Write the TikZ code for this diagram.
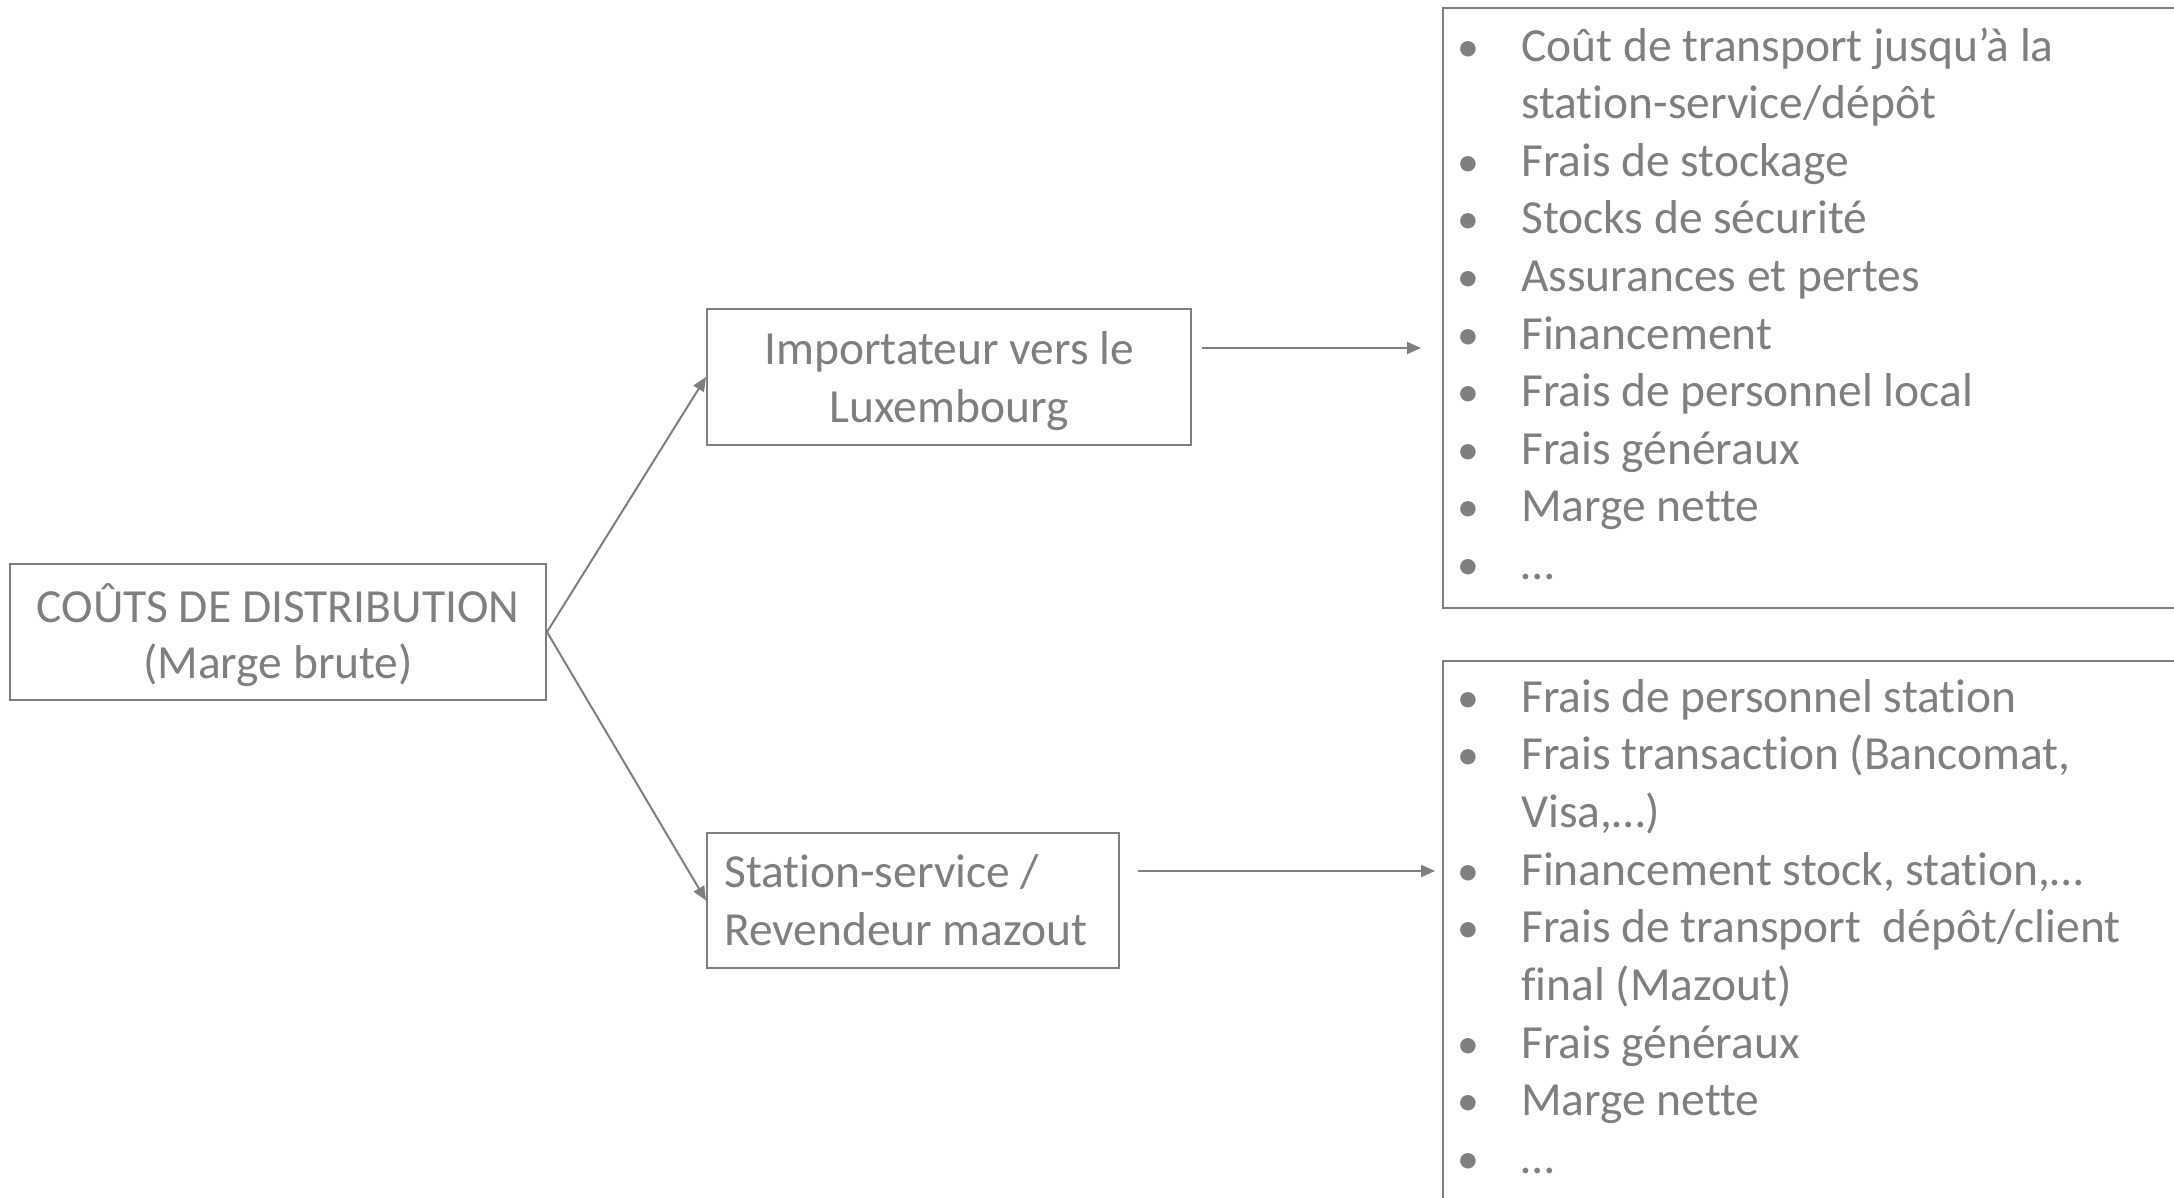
\documentclass[tikz,border=0pt]{standalone}
\usepackage{fontspec}
\setmainfont{Carlito}[Ligatures={NoCommon,NoContextual}]
\usetikzlibrary{arrows.meta}
\definecolor{gtxt}{HTML}{7F7F7F}
\begin{document}
\begin{tikzpicture}[x=1pt,y=-1pt,
  every node/.style={text=gtxt, font=\fontsize{47.5}{57.7}\selectfont},
  box/.style={draw=gtxt, line width=2pt, inner sep=0pt},
  conn/.style={draw=gtxt, line width=2pt, -{Triangle[length=14pt,width=12pt]}},
  bul/.style={anchor=base, inner sep=0pt},
  itm/.style={anchor=base west, inner sep=0pt}]
\useasboundingbox (0,0) rectangle (2174,1197);
\clip (0,0) rectangle (2174,1197);

\node[box, minimum width=536pt, minimum height=136pt] (cost) at (278,632) {};
\node[align=center, inner sep=0pt, font=\fontsize{47.5}{56}\selectfont] (costtxt)
      at ([yshift=-3pt]cost.center) {COÛTS DE DISTRIBUTION\\(Marge brute)};
\node[box, minimum width=484pt, minimum height=136pt] (imp) at (949,377) {};
\node[align=center, inner sep=0pt] (imptxt) at ([yshift=-4pt]imp.center)
      {Importateur vers le\\Luxembourg};
\node[box, minimum width=412pt, minimum height=135pt] (sta) at (913,900.5) {};
\node[align=left, inner sep=0pt, anchor=west] (statxt) at ([xshift=18pt]sta.west)
      {Station-service /\\Revendeur mazout};

\node[box, minimum width=760pt, minimum height=600pt, anchor=north west] (lst1) at (1442,7) {};
\node[box, minimum width=760pt, minimum height=580pt, anchor=north west] (lst2) at (1442,660) {};

\newcommand\bdot{\scalebox{0.92}{•}}
% upper list
\node[bul] (b11) at (1468,61) {\bdot};    \node[itm] (t11) at (1521,61) {Coût de transport jusqu’à la};
                                          \node[itm] (t12) at (1521,118.6) {station-service/dépôt};
\node[bul] (b13) at (1468,176.2) {\bdot}; \node[itm] (t13) at (1521,176.2) {Frais de stockage};
\node[bul] (b14) at (1468,233.8) {\bdot}; \node[itm] (t14) at (1521,233.8) {Stocks de sécurité};
\node[bul] (b15) at (1468,291.4) {\bdot}; \node[itm] (t15) at (1521,291.4) {Assurances et pertes};
\node[bul] (b16) at (1468,349) {\bdot};   \node[itm] (t16) at (1521,349) {Financement};
\node[bul] (b17) at (1468,406.6) {\bdot}; \node[itm] (t17) at (1521,406.6) {Frais de personnel local};
\node[bul] (b18) at (1468,464.2) {\bdot}; \node[itm] (t18) at (1521,464.2) {Frais généraux};
\node[bul] (b19) at (1468,521.8) {\bdot}; \node[itm] (t19) at (1521,521.8) {Marge nette};
\node[bul] (b1a) at (1468,579.4) {\bdot}; \node[itm] (t1a) at (1521,579.4) {…};

% lower list
\node[bul] (b21) at (1468,712) {\bdot};    \node[itm] (t21) at (1521,712) {Frais de personnel station};
\node[bul] (b22) at (1468,769.7) {\bdot};  \node[itm] (t22) at (1521,769.7) {Frais transaction (Bancomat,};
                                           \node[itm] (t23) at (1521,827.4) {Visa,…)};
\node[bul] (b24) at (1468,885.1) {\bdot};  \node[itm] (t24) at (1521,885.1) {Financement stock, station,…};
\node[bul] (b25) at (1468,942.8) {\bdot};  \node[itm] (t25) at (1521,942.8) {Frais de transport~ dépôt/client};
                                           \node[itm] (t26) at (1521,1000.5) {final (Mazout)};
\node[bul] (b27) at (1468,1058.2) {\bdot}; \node[itm] (t27) at (1521,1058.2) {Frais généraux};
\node[bul] (b28) at (1468,1115.9) {\bdot}; \node[itm] (t28) at (1521,1115.9) {Marge nette};
\node[bul] (b29) at (1468,1173.6) {\bdot}; \node[itm] (t29) at (1521,1173.6) {…};

% connectors
\draw[conn] (cost.east) -- (imp.west);
\draw[conn] (cost.east) -- (sta.west);
\coordinate (a1s) at (1202,348);
\coordinate (a1e) at (1421,348);
\coordinate (a2s) at (1138,871);
\coordinate (a2e) at (1435,871);
\draw[conn] (a1s) -- (a1e);
\draw[conn] (a2s) -- (a2e);
\end{tikzpicture}
\end{document}
